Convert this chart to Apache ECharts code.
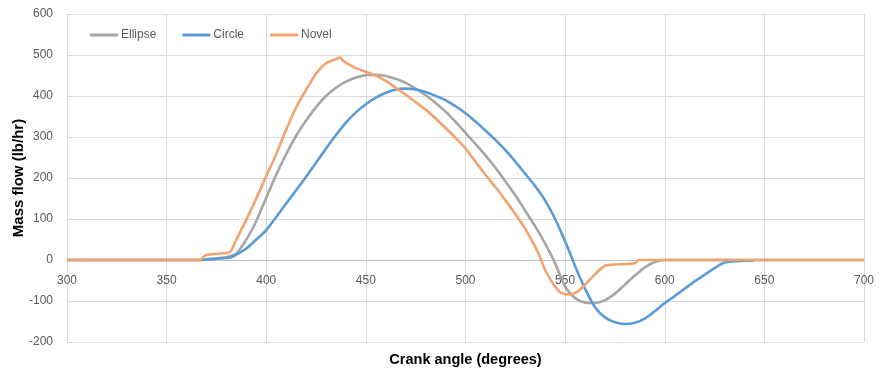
<!DOCTYPE html>
<html>
<head>
<meta charset="utf-8">
<script src="https://cdn.jsdelivr.net/npm/echarts@6/dist/echarts.min.js"></script>
<style>
  html, body { margin: 0; padding: 0; background: #ffffff; }
  #chart { width: 880px; height: 374px; }
</style>
</head>
<body>
<div id="chart"></div>
<script>
// Mass flow vs crank angle for three port geometries
const ellipseAngle = [300, 320, 340, 360, 367, 370, 375, 380, 385, 390, 393, 395, 400, 405, 410, 415, 420, 425, 430, 435, 440, 445, 450, 455, 460, 465, 470, 475, 480, 485, 490, 495, 500, 505, 510, 515, 520, 525, 530, 535, 540, 545, 550, 555, 560, 565, 570, 575, 580, 585, 590, 595, 600, 650, 700];
const ellipseFlow  = [0, 0, 0, 0, 0, 2, 4, 7, 16, 50, 75, 95, 152, 208, 258, 303, 340, 373, 400, 420, 435, 445, 451, 452, 449, 442, 432, 418, 402, 383, 362, 337, 310, 283, 255, 225, 192, 158, 120, 82, 40, -8, -65, -93, -104, -105, -98, -82, -60, -38, -18, -5, 0, 0, 0];

const circleAngle = [300, 320, 340, 360, 368, 370, 375, 380, 383, 390, 395, 400, 405, 410, 415, 420, 425, 430, 435, 440, 445, 450, 455, 460, 465, 470, 475, 480, 485, 490, 495, 500, 505, 510, 515, 520, 525, 530, 535, 540, 545, 550, 553, 555, 560, 565, 570, 575, 580, 585, 590, 595, 600, 605, 610, 615, 620, 625, 630, 635, 640, 645];
const circleFlow  = [0, 0, 0, 0, 0, 1, 3, 5, 8, 28, 50, 73, 105, 138, 170, 203, 237, 272, 305, 335, 360, 380, 396, 408, 416, 418, 416, 410, 400, 390, 375, 358, 338, 316, 293, 268, 240, 210, 180, 145, 100, 45, 10, -15, -70, -115, -140, -152, -156, -153, -143, -125, -105, -88, -70, -52, -36, -20, -6, -3, -2, -1];

const novelAngle = [300, 320, 340, 360, 367, 368, 370, 375, 380, 382, 385, 390, 395, 400, 405, 410, 415, 420, 425, 430, 435, 437, 439, 442, 445, 450, 455, 460, 465, 470, 475, 480, 485, 490, 495, 500, 505, 510, 515, 520, 525, 530, 535, 538, 540, 545, 548, 552, 556, 560, 565, 570, 575, 580, 585, 587, 590, 620, 650, 680, 700];
const novelFlow  = [0, 0, 0, 0, 0, 5, 12, 15, 17, 20, 50, 98, 150, 205, 258, 318, 372, 415, 455, 480, 490, 494, 484, 476, 468, 459, 450, 437, 420, 403, 385, 367, 345, 322, 298, 272, 240, 208, 178, 146, 112, 76, 32, 0, -25, -65, -80, -84, -78, -60, -35, -14, -11, -10, -8, 0, 0, 0, 0, 0, 0];

const seriesNames = ['Ellipse', 'Circle', 'Novel'];
const seriesColors = ['#a6a6a6', '#5b9bd5', '#f2a46e'];

function pairs(xs, ys) {
  return xs.map((x, i) => [x, ys[i]]);
}

const chart = echarts.init(document.getElementById('chart'), null, { renderer: 'canvas' });

const textColor = '#595959';
const gridColor = '#d9d9d9';
const baseFont = 'Liberation Sans';
const gridTop = 14, gridBottom = 32, yMin = -200, yMax = 600;
// shift the x axis up from the plot bottom to the zero line
const plotHeight = 374 - gridTop - gridBottom;
const zeroOffset = -plotHeight * (0 - yMin) / (yMax - yMin);

function lineSeries(name, data, color, z) {
  return {
    name: name,
    type: 'line',
    data: data,
    smooth: 0.3,
    symbol: 'none',
    z: z,
    lineStyle: { color: color, width: 2.6 },
    itemStyle: { color: color }
  };
}

chart.setOption({
  animation: false,
  backgroundColor: '#ffffff',
  textStyle: { fontFamily: baseFont },
  grid: { left: 67, right: 16, top: gridTop, bottom: gridBottom, containLabel: false, outerBoundsMode: 'none' },
  legend: {
    data: seriesNames,
    left: 85,
    top: 24,
    icon: 'rect',
    itemWidth: 28,
    itemHeight: 3,
    itemGap: 26,
    textStyle: { color: textColor, fontSize: 12, fontFamily: baseFont, padding: [0, 0, 0, -2] }
  },
  xAxis: {
    type: 'value',
    min: 300,
    max: 700,
    interval: 50,
    position: 'bottom',
    offset: zeroOffset,
    name: 'Crank angle (degrees)',
    nameLocation: 'middle',
    nameGap: 92,
    nameMoveOverlap: false,
    nameTextStyle: { color: '#000000', fontWeight: 'bold', fontSize: 14.5, fontFamily: baseFont },
    axisLine: { onZero: false, lineStyle: { color: '#bfbfbf', width: 1 } },
    axisTick: { show: false },
    axisLabel: { color: textColor, fontSize: 12, margin: 15, fontFamily: baseFont },
    splitLine: { show: true, lineStyle: { color: gridColor, width: 1 } }
  },
  yAxis: {
    type: 'value',
    min: yMin,
    max: yMax,
    interval: 100,
    name: 'Mass flow (lb/hr)',
    nameLocation: 'middle',
    nameGap: 41,
    nameMoveOverlap: false,
    nameTextStyle: { color: '#000000', fontWeight: 'bold', fontSize: 15, fontFamily: baseFont },
    axisLine: { show: false, onZero: false },
    axisTick: { show: false },
    axisLabel: { color: textColor, fontSize: 12, margin: 14, fontFamily: baseFont },
    splitLine: { show: true, lineStyle: { color: gridColor, width: 1 } }
  },
  series: [
    lineSeries(seriesNames[0], pairs(ellipseAngle, ellipseFlow), seriesColors[0], 2),
    lineSeries(seriesNames[1], pairs(circleAngle, circleFlow), seriesColors[1], 3),
    lineSeries(seriesNames[2], pairs(novelAngle, novelFlow), seriesColors[2], 4)
  ]
});
</script>
</body>
</html>
